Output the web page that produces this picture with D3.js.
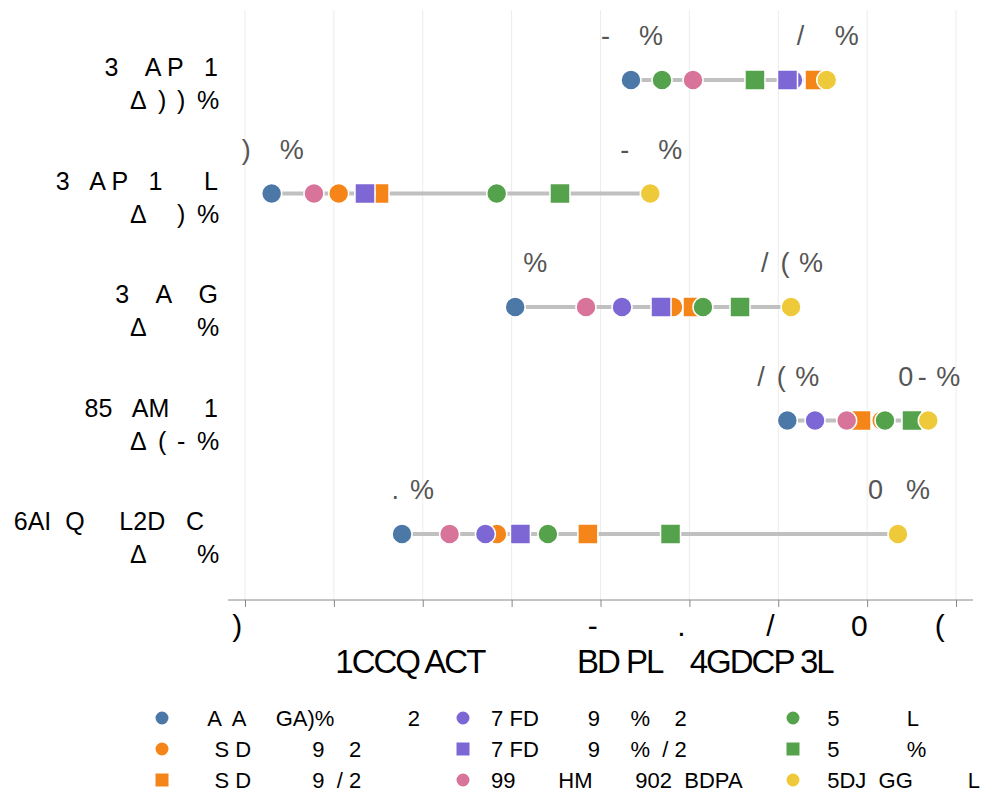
<!DOCTYPE html>
<html>
<head>
<meta charset="utf-8">
<script src="https://cdn.jsdelivr.net/npm/d3@7"></script>
<style>
  body { margin: 0; background: #fff; }
  svg { display: block; }
  text { font-family: "Liberation Sans", Arial, Helvetica, sans-serif; }
</style>
</head>
<body>
<svg id="chart" width="996" height="809"></svg>
<script>
// ---------------- data ----------------
const rows = ["r1", "r2", "r3", "r4", "r5"];
const rowTitles = ["3    A P   1", "3   A P   1      L", "3    A    G", "85   AM     1", "6AI  Q     L2D   C  "];
const deltaLabels = ["22", "42", "30", "16", "55"];
const minLabels = ["63", "23", "50", "81", "37"];
const maxLabels = ["85", "65", "81", "96", "93"];

const tickValues = [20, 30, 40, 50, 60, 70, 80, 90, 100];
const axisTitle = "1CCQ ACT             BD PL    4GDCP 3L";

const seriesNames = [
  "    A  A     GA)%            2",
  "     S D          9    2",
  "     S D          9  / 2",
  " 7 FD        9     %    2",
  " 7 FD        9     %  / 2",
  " 99       HM       902  BDPA",
  "  5           L",
  "  5           %",
  "  5DJ  GG         L"
];
const seriesColors = ["#4c78a8", "#f58518", "#f58518", "#7d67d5", "#7d67d5", "#d8739a", "#54a24b", "#54a24b", "#eeca3b"];
const seriesShapes = ["circle", "circle", "square", "circle", "square", "circle", "circle", "square", "circle"];

const blueCircle    = [63.43, 23.00, 50.40, 81.02, 37.67];
const orangeCircle  = [84.14, 30.54, 68.16, 91.64, 48.35];
const orangeSquare  = [84.14, 35.08, 70.41, 89.31, 58.58];
const purpleCircle  = [81.66, 33.50, 62.42, 84.14, 47.05];
const purpleSquare  = [81.04, 33.50, 66.81, 95.05, 50.99];
const pinkCircle    = [70.41, 27.76, 58.37, 87.70, 43.02];
const greenCircle   = [66.92, 48.32, 71.53, 92.01, 54.08];
const greenSquare   = [77.38, 55.44, 75.70, 95.05, 67.88];
const yellowCircle  = [85.45, 65.60, 81.44, 96.88, 93.47];
const seriesValues = [blueCircle, orangeCircle, orangeSquare, purpleCircle, purpleSquare, pinkCircle, greenCircle, greenSquare, yellowCircle];

// digits as they are drawn in the reference lettering
const glyphMap = { "0": null, "1": "(", "2": ")", "3": null, "4": null, "5": null, "6": "-", "7": ".", "8": "/", "9": "0" };

// ---------------- layout ----------------
const svg = d3.select("#chart");
const axisY = 600, axisX0 = 228, axisX1 = 973, gridTop = 10;
const labelRight = 218;

const x = d3.scaleLinear().domain([20, 100]).range([245, 956]);
const y = d3.scalePoint().domain(rows).range([80, 534]);

// grid
svg.append("g").selectAll("line").data(tickValues).join("line")
  .attr("x1", d => x(d)).attr("x2", d => x(d))
  .attr("y1", gridTop).attr("y2", axisY)
  .attr("stroke", "#ececec").attr("stroke-width", 1);

// axis
const fig = "\u2007";
const tickFmt = v => String(v).split("").map(c => glyphMap[c] === null ? fig : glyphMap[c]).join("");
const axis = d3.axisBottom(x).tickValues(tickValues).tickSize(7).tickFormat(tickFmt);
const ag = svg.append("g").attr("transform", `translate(0,${axisY})`).call(axis);
ag.select(".domain").remove();
ag.selectAll(".tick line").attr("stroke", "#888");
ag.selectAll(".tick text").attr("y", 36).attr("dy", 0)
  .attr("font-size", 30).attr("fill", "#000")
  .style("font-family", '"Liberation Sans", Arial, sans-serif')
  .attr("xml:space", "preserve");
svg.append("line").attr("x1", axisX0).attr("x2", axisX1).attr("y1", axisY).attr("y2", axisY)
  .attr("stroke", "#888").attr("stroke-width", 1);

svg.append("text").attr("x", 584).attr("y", 673).attr("text-anchor", "middle")
  .attr("font-size", 33).attr("letter-spacing", -2).attr("fill", "#000")
  .attr("xml:space", "preserve").text(axisTitle);

// helper: draw a code string glyph-by-glyph
function drawCode(g, str, positions, yy, size, color) {
  str.split("").forEach((c, i) => {
    const glyph = (c in glyphMap) ? glyphMap[c] : c;
    if (glyph === null) return;
    g.append("text").attr("x", positions[i]).attr("y", yy)
      .attr("font-size", size).attr("fill", color).text(glyph);
  });
}

// row labels
const rowG = svg.append("g");
rows.forEach((r, i) => {
  const cy = y(r);
  rowG.append("text").attr("x", labelRight).attr("y", cy - 4)
    .attr("text-anchor", "end").attr("font-size", 25).attr("fill", "#000")
    .attr("xml:space", "preserve").text(rowTitles[i]);
  const g = rowG.append("g");
  drawCode(g, "Δ" + deltaLabels[i] + "%",
    [labelRight - 88, labelRight - 60, labelRight - 41, labelRight - 21], cy + 29, 25, "#000");
});

// dumbbell lines
const ext = rows.map((r, i) => d3.extent(seriesValues, s => s[i]));
svg.append("g").selectAll("line").data(rows).join("line")
  .attr("x1", (r, i) => x(ext[i][0])).attr("x2", (r, i) => x(ext[i][1]))
  .attr("y1", r => y(r)).attr("y2", r => y(r))
  .attr("stroke", "#c0c0c0").attr("stroke-width", 4);

// markers
const sym = d3.symbol();
seriesValues.forEach((vals, s) => {
  const shape = seriesShapes[s] === "square" ? d3.symbolSquare : d3.symbolCircle;
  const size = seriesShapes[s] === "square" ? 400 : Math.PI * 100;
  svg.append("g").selectAll("path").data(vals).join("path")
    .attr("transform", (v, i) => `translate(${x(v)},${y(rows[i])})`)
    .attr("d", sym.type(shape).size(size)())
    .attr("fill", seriesColors[s]).attr("stroke", "#fff").attr("stroke-width", 1.5);
});

// min / max annotations
const annG = svg.append("g");
rows.forEach((r, i) => {
  const cy = y(r) - 35;
  const lo = x(ext[i][0]), hi = x(ext[i][1]);
  drawCode(annG, minLabels[i] + "%", [lo - 30, lo - 10.5, lo + 8], cy, 27, "#555");
  drawCode(annG, maxLabels[i] + "%", [hi - 30, hi - 10.5, hi + 8], cy, 27, "#555");
});

// legend
const legCols = [162, 463, 793], legRows = [718, 749, 780];
const legG = svg.append("g");
seriesNames.forEach((name, s) => {
  const lx = legCols[Math.floor(s / 3)], ly = legRows[s % 3];
  const shape = seriesShapes[s] === "square" ? d3.symbolSquare : d3.symbolCircle;
  const size = seriesShapes[s] === "square" ? 169 : Math.PI * 42;
  legG.append("path").attr("transform", `translate(${lx},${ly})`)
    .attr("d", sym.type(shape).size(size)()).attr("fill", seriesColors[s]);
  legG.append("text").attr("x", lx + 22).attr("y", ly + 8)
    .attr("font-size", 22).attr("fill", "#000")
    .attr("xml:space", "preserve").text(name);
});
</script>
</body>
</html>
